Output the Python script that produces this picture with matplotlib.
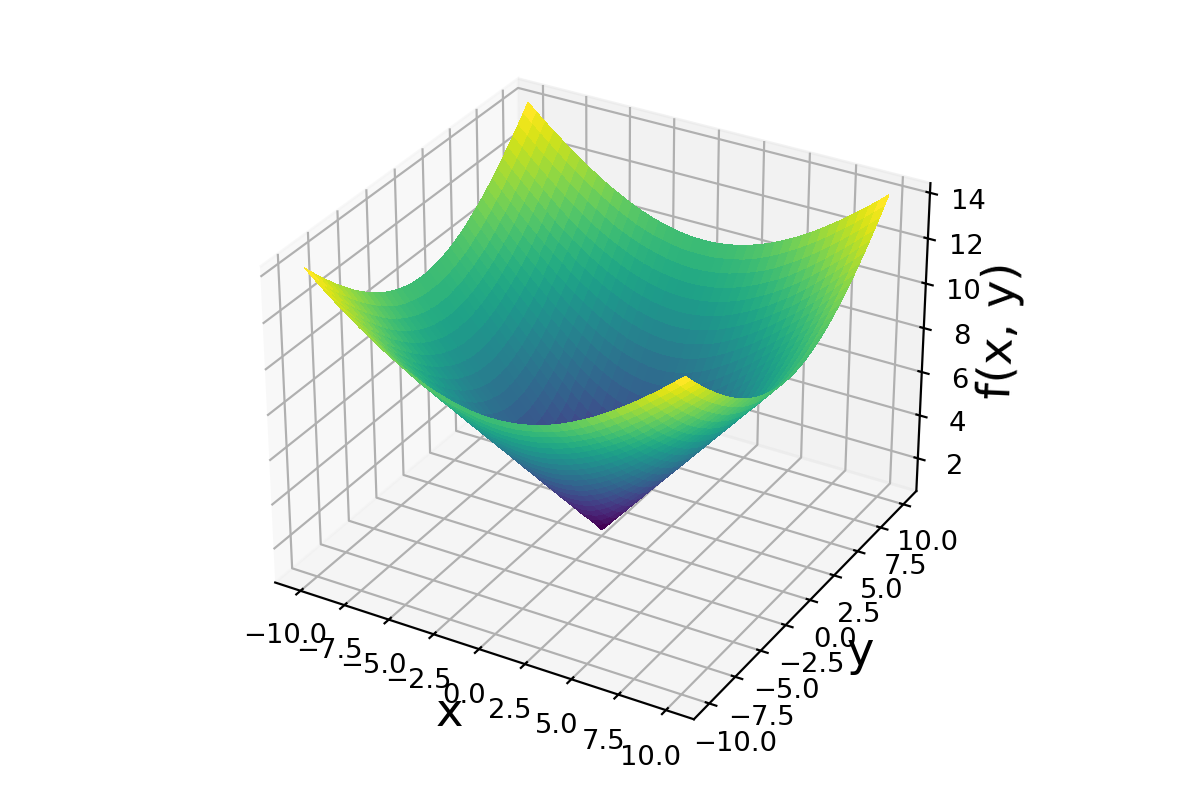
"""Cone surface over x, y in [-10, 10], viridis, default 3D view."""
import matplotlib
matplotlib.use("Agg")
import matplotlib.pyplot as plt
import numpy as np

# heights for one quadrant, |x| and |y| from 0 to 10 in steps of 0.5
axis_steps = [0, 0.5, 1, 1.5, 2, 2.5, 3, 3.5, 4, 4.5, 5, 5.5, 6, 6.5, 7, 7.5, 8, 8.5, 9, 9.5, 10]
quadrant_z = [
    [0.74, 1.20, 1.67, 2.13, 2.59, 3.06, 3.52, 3.98, 4.44, 4.91, 5.37, 5.83, 6.30, 6.76, 7.22, 7.69, 8.15, 8.61, 9.07, 9.54, 10],
    [1.20, 1.40, 1.78, 2.20, 2.65, 3.10, 3.56, 4.02, 4.47, 4.93, 5.39, 5.85, 6.31, 6.78, 7.24, 7.70, 8.17, 8.62, 9.08, 9.55, 10.01],
    [1.67, 1.78, 2.05, 2.41, 2.81, 3.23, 3.67, 4.11, 4.56, 5.01, 5.46, 5.92, 6.37, 6.83, 7.29, 7.75, 8.20, 8.67, 9.13, 9.58, 10.05],
    [2.13, 2.20, 2.41, 2.70, 3.06, 3.44, 3.84, 4.27, 4.69, 5.13, 5.57, 6.02, 6.46, 6.92, 7.37, 7.82, 8.28, 8.73, 9.19, 9.65, 10.11],
    [2.59, 2.65, 2.81, 3.06, 3.36, 3.70, 4.08, 4.47, 4.88, 5.30, 5.73, 6.16, 6.59, 7.04, 7.48, 7.93, 8.38, 8.82, 9.28, 9.73, 10.20],
    [3.06, 3.10, 3.23, 3.44, 3.70, 4.02, 4.36, 4.72, 5.11, 5.51, 5.92, 6.33, 6.76, 7.18, 7.62, 8.06, 8.50, 8.94, 9.40, 9.83, 10.31],
    [3.52, 3.56, 3.67, 3.84, 4.08, 4.36, 4.67, 5.01, 5.37, 5.75, 6.14, 6.54, 6.95, 7.37, 7.80, 8.22, 8.65, 9.08, 9.53, 9.96, 10.44],
    [3.98, 4.02, 4.11, 4.27, 4.47, 4.72, 5.01, 5.32, 5.67, 6.02, 6.39, 6.78, 7.18, 7.57, 7.99, 8.41, 8.82, 9.25, 9.69, 10.12, 10.59],
    [4.44, 4.47, 4.56, 4.69, 4.88, 5.11, 5.37, 5.67, 5.98, 6.31, 6.67, 7.04, 7.42, 7.81, 8.20, 8.61, 9.02, 9.44, 9.86, 10.31, 10.77],
    [4.91, 4.93, 5.01, 5.13, 5.30, 5.51, 5.75, 6.02, 6.31, 6.63, 6.97, 7.32, 7.69, 8.06, 8.44, 8.84, 9.24, 9.65, 10.06, 10.51, 10.97],
    [5.37, 5.39, 5.46, 5.57, 5.73, 5.92, 6.14, 6.39, 6.67, 6.97, 7.29, 7.62, 7.97, 8.33, 8.70, 9.08, 9.47, 9.87, 10.30, 10.74, 11.18],
    [5.83, 5.85, 5.92, 6.02, 6.16, 6.33, 6.54, 6.78, 7.04, 7.32, 7.62, 7.94, 8.28, 8.62, 8.98, 9.35, 9.73, 10.12, 10.55, 10.98, 11.41],
    [6.30, 6.31, 6.37, 6.46, 6.59, 6.76, 6.95, 7.18, 7.42, 7.69, 7.97, 8.28, 8.60, 8.93, 9.28, 9.63, 10, 10.40, 10.82, 11.24, 11.66],
    [6.76, 6.78, 6.83, 6.92, 7.04, 7.18, 7.37, 7.57, 7.81, 8.06, 8.33, 8.62, 8.93, 9.25, 9.58, 9.93, 10.31, 10.70, 11.10, 11.51, 11.93],
    [7.22, 7.24, 7.29, 7.37, 7.48, 7.62, 7.80, 7.99, 8.20, 8.44, 8.70, 8.98, 9.28, 9.58, 9.91, 10.26, 10.63, 11.01, 11.40, 11.80, 12.21],
    [7.69, 7.70, 7.75, 7.82, 7.93, 8.06, 8.22, 8.41, 8.61, 8.84, 9.08, 9.35, 9.63, 9.93, 10.26, 10.61, 10.97, 11.34, 11.72, 12.10, 12.5],
    [8.15, 8.17, 8.20, 8.28, 8.38, 8.50, 8.65, 8.82, 9.02, 9.24, 9.47, 9.73, 10, 10.31, 10.63, 10.97, 11.31, 11.67, 12.04, 12.42, 12.81],
    [8.61, 8.62, 8.67, 8.73, 8.82, 8.94, 9.08, 9.25, 9.44, 9.65, 9.87, 10.12, 10.40, 10.70, 11.01, 11.34, 11.67, 12.02, 12.38, 12.75, 13.12],
    [9.07, 9.08, 9.13, 9.19, 9.28, 9.40, 9.53, 9.69, 9.86, 10.06, 10.30, 10.55, 10.82, 11.10, 11.40, 11.72, 12.04, 12.38, 12.73, 13.09, 13.45],
    [9.54, 9.55, 9.58, 9.65, 9.73, 9.83, 9.96, 10.12, 10.31, 10.51, 10.74, 10.98, 11.24, 11.51, 11.80, 12.10, 12.42, 12.75, 13.09, 13.44, 13.79],
    [10, 10.01, 10.05, 10.11, 10.20, 10.31, 10.44, 10.59, 10.77, 10.97, 11.18, 11.41, 11.66, 11.93, 12.21, 12.5, 12.81, 13.12, 13.45, 13.79, 14.14],
]

# surface is the same in all four quadrants
steps = np.array(axis_steps)
xs = np.concatenate([-steps[:0:-1], steps])
q = np.array(quadrant_z)
top = np.concatenate([q[:0:-1, :0:-1], q[:0:-1, :]], axis=1)
bottom = np.concatenate([q[:, :0:-1], q], axis=1)
Z = np.concatenate([top, bottom], axis=0)
X, Y = np.meshgrid(xs, xs)

fig = plt.figure(figsize=(6, 4), dpi=197.2)
ax = fig.add_axes([0.0, 0.0275, 1.0, 0.945], projection="3d")
ax.plot_surface(X, Y, Z, cmap="viridis", rcount=50, ccount=50, linewidth=0, antialiased=False)
ax.set_xticks([-10, -7.5, -5, -2.5, 0, 2.5, 5, 7.5, 10])
ax.set_yticks([-10, -7.5, -5, -2.5, 0, 2.5, 5, 7.5, 10])
ax.set_zticks([2, 4, 6, 8, 10, 12, 14])
ax.tick_params(pad=0.5)
ax.set_xlabel("x", fontsize=17, labelpad=-4.5)
ax.set_ylabel("y", fontsize=17, labelpad=-4)
ax.set_zlabel("f(x, y)", fontsize=17, labelpad=-3.5)
fig.savefig("out.png", dpi=197.2)
